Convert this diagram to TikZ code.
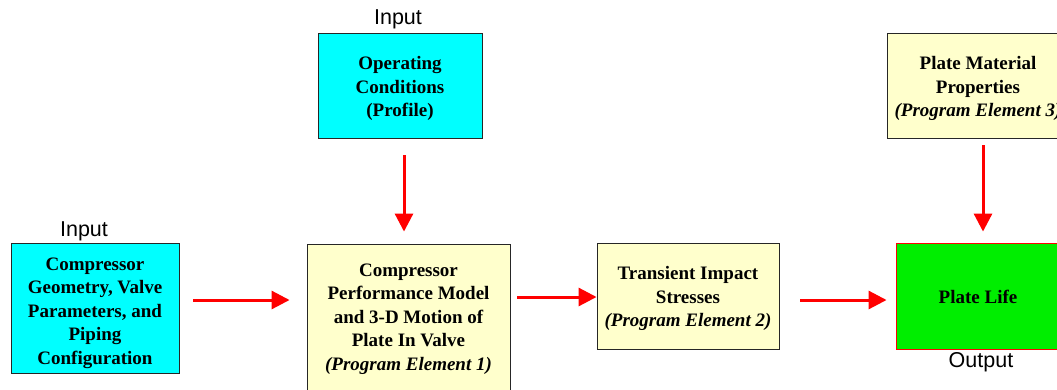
\documentclass[tikz,border=0pt]{standalone}
\usepackage{fontspec}
\setmainfont{Liberation Serif}
\newfontfamily\arialfont{Liberation Sans}
\usetikzlibrary{arrows.meta}
\definecolor{boxcyan}{HTML}{00FFFF}
\definecolor{boxyellow}{HTML}{FFFFCC}
\definecolor{boxgreen}{HTML}{00EE00}
\definecolor{arrred}{HTML}{FF0000}
\tikzset{
  box/.style={draw=black!85, line width=0.9pt, inner sep=0pt},
  txt/.style={align=center, inner sep=0pt,
    font=\fontsize{19}{23.5}\selectfont\bfseries},
  inbox/.style={box, fill=boxcyan},
  pebox/.style={box, fill=boxyellow},
  outbox/.style={box, fill=boxgreen, draw=arrred},
  lbl/.style={font=\arialfont\fontsize{21.5}{24}\selectfont, inner sep=0pt},
  arr/.style={draw=arrred, line width=3pt, -{Triangle[length=18pt,width=18pt]}, arrred}
}
\begin{document}
\begin{tikzpicture}[x=1pt,y=-1pt]
\useasboundingbox (0,0) rectangle (1057,389);
\clip (0,0) rectangle (1057,389);
\fill[white] (0,0) rectangle (1057,389);
% boxes
\node[inbox, minimum width=168pt, minimum height=130pt] (A) at (95,308) {};
\node[txt] (At) at ([yshift=-5pt]A.center)
  {Compressor\\Geometry, Valve\\Parameters, and\\Piping\\Configuration};
\node[inbox, minimum width=164pt, minimum height=105pt] (B) at (400,85.5) {};
\node[txt] (Bt) at ([yshift=-3pt]B.center)
  {Operating\\Conditions\\(Profile)};
\node[pebox, minimum width=203pt, minimum height=148pt] (C) at (408.5,318) {};
\node[txt] (Ct) at ([yshift=-1pt]C.center)
  {Compressor\\Performance Model\\and 3-D Motion of\\Plate In Valve\\\textit{(Program Element 1)}};
\node[pebox, minimum width=182pt, minimum height=106pt] (D) at (688,296) {};
\node[txt] (Dt) at ([yshift=-2.5pt]D.center)
  {Transient Impact\\Stresses\\\textit{(Program Element 2)}};
\node[pebox, minimum width=182pt, minimum height=105pt] (E) at (978,85.5) {};
\node[txt] (Et) at ([yshift=-3pt]E.center)
  {Plate Material\\Properties\\\textit{(Program Element 3)}};
\node[outbox, minimum width=164pt, minimum height=106pt] (F) at (978,296) {};
\node[txt] (Ft) at ([yshift=-1pt]F.center) {Plate Life};
% labels
\node[lbl] (la) at (84,231) {Input};
\node[lbl] (lb) at (398,19) {Input};
\node[lbl] (lf) at (981,362) {Output};
% arrows
\draw[arr] ([xshift=14pt]A.east |- 0,300) -- ([xshift=-17pt]C.west |- 0,300);
\draw[arr] ([yshift=-17pt]B.south -| 404,0) -- ([yshift=12pt]C.north -| 404,0);
\draw[arr] ([xshift=7pt]C.east |- 0,297) -- (D.west |- 0,297);
\draw[arr] ([xshift=21pt]D.east |- 0,300) -- ([xshift=-9pt]F.west |- 0,300);
\draw[arr] ([yshift=-7pt]E.south -| 983,0) -- ([yshift=11pt]F.north -| 983,0);
\end{tikzpicture}
\end{document}
